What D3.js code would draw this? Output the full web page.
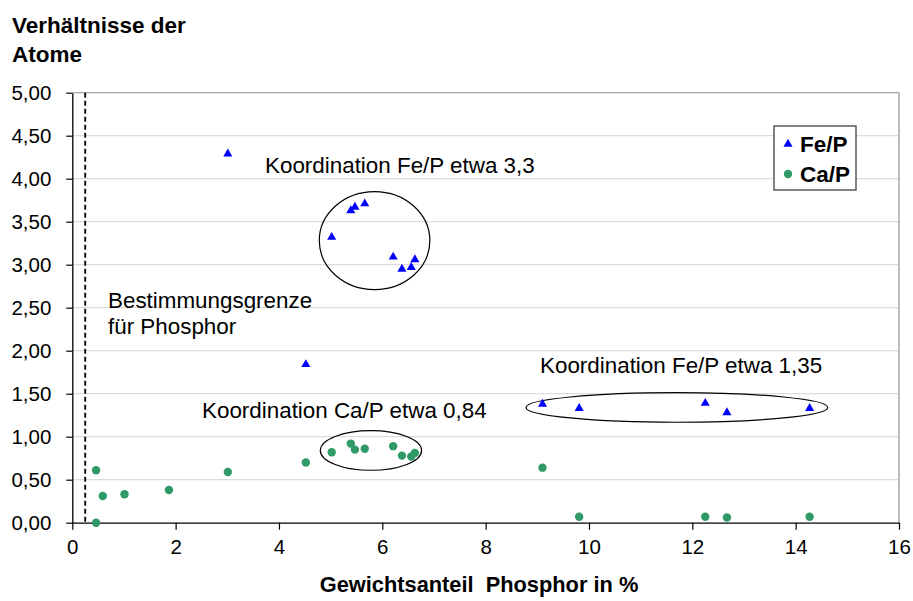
<!DOCTYPE html>
<html>
<head>
<meta charset="utf-8">
<script src="https://cdn.jsdelivr.net/npm/d3@7"></script>
<style>
  html, body { margin: 0; padding: 0; background: #fff; }
  svg { display: block; font-family: "Liberation Sans", Arial, sans-serif; }
</style>
</head>
<body>
<svg id="chart" width="913" height="601"></svg>
<script>
// Phosphorus content (weight %) of each sample and the atom ratios measured
const fePhosphor = [3.01, 4.52, 5.02, 5.39, 5.47, 5.66, 6.21, 6.38, 6.56, 6.63, 9.10, 9.81, 12.25, 12.67, 14.27];
const feRatio    = [4.29, 1.84, 3.32, 3.63, 3.67, 3.71, 3.09, 2.95, 2.97, 3.06, 1.38, 1.33, 1.39, 1.28, 1.33];

const caPhosphor = [0.46, 0.46, 0.59, 1.01, 1.87, 3.01, 4.52, 5.02, 5.39, 5.47, 5.66, 6.21, 6.38, 6.56, 6.63, 9.10, 9.81, 12.25, 12.67, 14.27];
const caRatio    = [0.61, 0.00, 0.31, 0.33, 0.38, 0.59, 0.70, 0.82, 0.92, 0.85, 0.86, 0.89, 0.78, 0.77, 0.81, 0.64, 0.07, 0.07, 0.06, 0.07];

const xTicks = [0, 2, 4, 6, 8, 10, 12, 14, 16];
const yTicks = [0, 0.5, 1, 1.5, 2, 2.5, 3, 3.5, 4, 4.5, 5];

const detectionLimit = 0.25;

// Groupings highlighted with ellipses: centre (P %, ratio) and half-extents in data units
const groupCx = [5.85, 5.78, 11.70];
const groupCy = [3.28, 0.84, 1.34];
const groupRx = [1.07, 0.98, 2.92];
const groupRy = [0.57, 0.23, 0.172];

const seriesNames = ["Fe/P", "Ca/P"];

const svg = d3.select("#chart");
const plotLeft = 72.3, plotRight = 899, plotTop = 92.7, plotBottom = 522.7;

const x = d3.scaleLinear().domain([0, 16]).range([plotLeft, plotRight]);
const y = d3.scaleLinear().domain([0, 5]).range([plotBottom, plotTop]);
const fmt = v => d3.format(".2f")(v).replace(".", ",");

const FONT = "\"Liberation Sans\", Arial, sans-serif";

// Horizontal gridlines
svg.append("g").selectAll("line").data(yTicks.filter(d => d > 0)).join("line")
  .attr("x1", plotLeft).attr("x2", plotRight)
  .attr("y1", d => y(d)).attr("y2", d => y(d))
  .attr("stroke", "#d4d4d4").attr("stroke-width", 1);

// Plot area border (top and right)
svg.append("line").attr("x1", plotRight).attr("x2", plotRight).attr("y1", plotTop).attr("y2", plotBottom)
  .attr("stroke", "#9a9a9a").attr("stroke-width", 1.3);
svg.append("line").attr("x1", plotLeft).attr("x2", plotRight).attr("y1", plotTop).attr("y2", plotTop)
  .attr("stroke", "#9a9a9a").attr("stroke-width", 1);

// Axes
const xAxis = svg.append("g").attr("transform", `translate(0,${plotBottom})`)
  .call(d3.axisBottom(x).tickValues(xTicks).tickSizeOuter(0).tickSizeInner(7).tickPadding(10).tickFormat(d3.format("d")));
const yAxis = svg.append("g").attr("transform", `translate(${plotLeft},0)`)
  .call(d3.axisLeft(y).tickValues(yTicks).tickSizeOuter(0).tickSizeInner(6).tickPadding(15).tickFormat(fmt));
[xAxis, yAxis].forEach(g => {
  g.select(".domain").attr("stroke", "#000").attr("stroke-width", 1.3);
  g.selectAll(".tick line").attr("stroke", "#000").attr("stroke-width", 1.2);
  g.selectAll(".tick text").attr("fill", "#000").style("font-family", FONT).style("font-size", "20.5px");
});

// Detection limit
svg.append("line")
  .attr("x1", x(detectionLimit)).attr("x2", x(detectionLimit))
  .attr("y1", plotTop).attr("y2", plotBottom)
  .attr("stroke", "#000").attr("stroke-width", 1.8).attr("stroke-dasharray", "5,3");

// Ellipses around groups
svg.append("g").selectAll("ellipse").data(groupCx).join("ellipse")
  .attr("cx", (d, i) => x(groupCx[i]))
  .attr("cy", (d, i) => y(groupCy[i]))
  .attr("rx", (d, i) => x(groupRx[i]) - x(0))
  .attr("ry", (d, i) => y(0) - y(groupRy[i]))
  .attr("fill", "none").attr("stroke", "#000").attr("stroke-width", 1.2);

// Markers
const triangle = d3.symbol().type(d3.symbolTriangle).size(36);
svg.append("g").selectAll("path").data(d3.range(fePhosphor.length)).join("path")
  .attr("d", triangle)
  .attr("transform", i => `translate(${x(fePhosphor[i])},${y(feRatio[i])})`)
  .attr("fill", "#0000ff");

svg.append("g").selectAll("circle").data(d3.range(caPhosphor.length)).join("circle")
  .attr("cx", i => x(caPhosphor[i]))
  .attr("cy", i => y(caRatio[i]))
  .attr("r", 4.2)
  .attr("fill", "#2f9a66");

// Annotations
const notes = [
  { t: "Koordination Fe/P etwa 3,3", x: 265, y: 173 },
  { t: "Koordination Ca/P etwa 0,84", x: 202, y: 418 },
  { t: "Koordination Fe/P etwa 1,35", x: 540, y: 373 },
  { t: "Bestimmungsgrenze", x: 108, y: 308 },
  { t: "für Phosphor", x: 108, y: 334 }
];
svg.append("g").selectAll("text").data(notes).join("text")
  .attr("x", d => d.x).attr("y", d => d.y)
  .style("font-family", FONT).style("font-size", "22.4px").attr("fill", "#000")
  .text(d => d.t);

// Titles
svg.append("text").attr("x", 12).attr("y", 33)
  .style("font-family", FONT).style("font-size", "22.5px").style("font-weight", "bold")
  .text("Verhältnisse der");
svg.append("text").attr("x", 12).attr("y", 62)
  .style("font-family", FONT).style("font-size", "22.5px").style("font-weight", "bold")
  .text("Atome");
svg.append("text").attr("x", 479).attr("y", 592).attr("text-anchor", "middle")
  .style("font-family", FONT).style("font-size", "21.8px").style("font-weight", "bold")
  .style("white-space", "pre")
  .text("Gewichtsanteil  Phosphor in %");

// Legend
const lg = svg.append("g");
lg.append("rect").attr("x", 774).attr("y", 126).attr("width", 82).attr("height", 64)
  .attr("fill", "#fff").attr("stroke", "#404040").attr("stroke-width", 1.3);
const legRows = lg.selectAll("g.row").data(seriesNames).join("g").attr("class", "row")
  .attr("transform", (d, i) => `translate(788,${144 + i * 30})`);
legRows.filter((d, i) => i === 0).append("path").attr("d", triangle).attr("fill", "#0000ff");
legRows.filter((d, i) => i === 1).append("circle").attr("r", 4.2).attr("fill", "#2f9a66");
legRows.append("text").attr("x", 12).attr("y", 7.5)
  .style("font-family", FONT).style("font-size", "22.5px").style("font-weight", "bold")
  .text(d => d);
</script>
</body>
</html>
